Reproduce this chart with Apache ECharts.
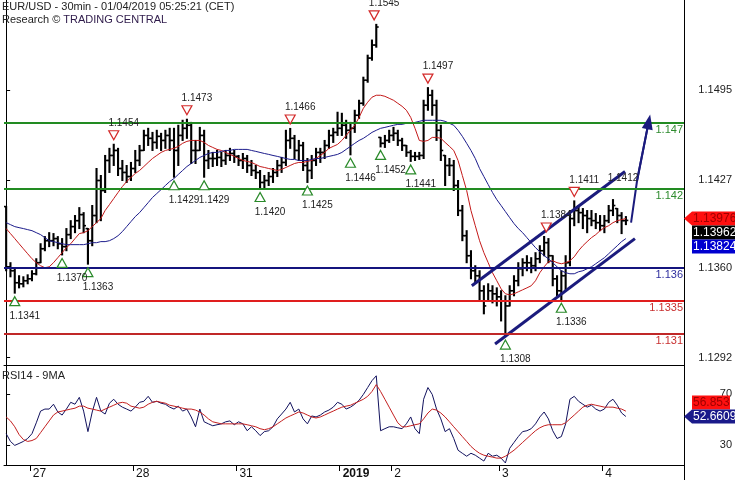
<!DOCTYPE html>
<html><head><meta charset="utf-8">
<script src="https://cdn.jsdelivr.net/npm/echarts@6/dist/echarts.min.js"></script>
<style>html,body{margin:0;padding:0;background:#fff}#main{width:735px;height:480px}</style>
</head><body><div id="main"></div>
<script>
// ---------- data ----------
const dayLabels = ['26','27','28','31','2019','2','3','4'];
const barsPerDay = [6,24,24,24,12,25,24,6];

const highs = [1.14067,1.13641,1.13595,1.13542,1.13534,1.13549,1.13580,1.13671,1.13785,1.13839,
 1.13869,1.13862,1.13839,1.13824,1.13900,1.13960,1.13999,1.14059,1.14021,1.13900,
 1.14075,1.14356,1.14303,1.14455,1.14509,1.14540,1.14509,1.14417,1.14379,1.14402,
 1.14493,1.14531,1.14646,1.14661,1.14630,1.14646,1.14623,1.14646,1.14661,1.14661,
 1.14684,1.14722,1.14730,1.14706,1.14569,1.14668,1.14646,1.14493,1.14478,1.14493,
 1.14478,1.14493,1.14509,1.14493,1.14455,1.14470,1.14455,1.14417,1.14379,1.14341,
 1.14303,1.14326,1.14356,1.14417,1.14440,1.14646,1.14660,1.14607,1.14569,1.14554,
 1.14432,1.14455,1.14509,1.14509,1.14569,1.14646,1.14661,1.14783,1.14775,1.14722,
 1.14706,1.14798,1.14874,1.15049,1.15216,1.15331,1.15450,1.14592,1.14607,1.14646,
 1.14668,1.14646,1.14585,1.14531,1.14493,1.14478,1.14478,1.14874,1.14970,1.14950,
 1.14874,1.14684,1.14455,1.14432,1.14417,1.14265,1.14075,1.13884,1.13732,1.13618,
 1.13580,1.13466,1.13481,1.13466,1.13450,1.13428,1.13390,1.13466,1.13542,1.13641,
 1.13671,1.13694,1.13679,1.13717,1.13770,1.13840,1.13824,1.13694,1.13542,1.13580,
 1.13694,1.14037,1.14110,1.14075,1.14052,1.14037,1.14037,1.14014,1.13999,1.13999,
 1.14075,1.14120,1.14052,1.14021,1.13991];
const lows = [1.13580,1.13534,1.13410,1.13450,1.13458,1.13481,1.13504,1.13549,1.13641,1.13732,
 1.13763,1.13770,1.13747,1.13700,1.13732,1.13824,1.13869,1.13900,1.13869,1.13630,
 1.13770,1.13945,1.13960,1.14174,1.14326,1.14379,1.14303,1.14265,1.14250,1.14265,
 1.14326,1.14379,1.14493,1.14531,1.14493,1.14509,1.14493,1.14509,1.14493,1.14290,
 1.14379,1.14569,1.14585,1.14394,1.14394,1.14493,1.14290,1.14356,1.14371,1.14379,
 1.14371,1.14387,1.14417,1.14402,1.14379,1.14356,1.14326,1.14303,1.14280,1.14200,
 1.14204,1.14227,1.14250,1.14295,1.14326,1.14379,1.14509,1.14432,1.14417,1.14341,
 1.14250,1.14280,1.14379,1.14402,1.14432,1.14509,1.14554,1.14607,1.14607,1.14585,
 1.14460,1.14630,1.14737,1.14836,1.15011,1.15178,1.15277,1.14520,1.14516,1.14554,
 1.14569,1.14531,1.14493,1.14448,1.14410,1.14417,1.14425,1.14432,1.14798,1.14760,
 1.14569,1.14417,1.14227,1.14303,1.14189,1.13999,1.13808,1.13641,1.13519,1.13489,
 1.13352,1.13253,1.13352,1.13336,1.13313,1.13199,1.13080,1.13313,1.13390,1.13466,
 1.13542,1.13580,1.13565,1.13580,1.13641,1.13694,1.13641,1.13466,1.13390,1.13360,
 1.13428,1.13618,1.13922,1.13945,1.13900,1.13869,1.13922,1.13900,1.13884,1.13869,
 1.13945,1.13999,1.13945,1.13862,1.13930];
const closes = [1.13610,1.13580,1.13489,1.13481,1.13504,1.13519,1.13557,1.13641,1.13747,1.13808,
 1.13808,1.13824,1.13785,1.13763,1.13854,1.13915,1.13960,1.14006,1.13922,1.13808,
 1.13999,1.14265,1.14189,1.14417,1.14455,1.14493,1.14356,1.14326,1.14295,1.14356,
 1.14417,1.14493,1.14607,1.14585,1.14554,1.14600,1.14569,1.14607,1.14569,1.14493,
 1.14607,1.14661,1.14684,1.14493,1.14493,1.14607,1.14417,1.14432,1.14432,1.14440,
 1.14417,1.14455,1.14470,1.14448,1.14417,1.14432,1.14379,1.14341,1.14326,1.14250,
 1.14265,1.14295,1.14326,1.14379,1.14402,1.14569,1.14585,1.14493,1.14531,1.14379,
 1.14341,1.14417,1.14478,1.14478,1.14531,1.14607,1.14630,1.14661,1.14684,1.14646,
 1.14661,1.14760,1.14851,1.15026,1.15194,1.15293,1.15430,1.14547,1.14569,1.14607,
 1.14623,1.14569,1.14531,1.14478,1.14448,1.14448,1.14455,1.14836,1.14912,1.14836,
 1.14646,1.14493,1.14379,1.14379,1.14227,1.14037,1.13846,1.13694,1.13580,1.13542,
 1.13428,1.13313,1.13428,1.13405,1.13382,1.13352,1.13313,1.13428,1.13504,1.13595,
 1.13641,1.13641,1.13618,1.13671,1.13732,1.13793,1.13694,1.13519,1.13428,1.13542,
 1.13641,1.13976,1.14037,1.14021,1.13999,1.13976,1.13960,1.13945,1.13922,1.13960,
 1.14037,1.14075,1.13999,1.13960,1.13962];
const maFast = [1.13900,1.13862,1.13824,1.13785,1.13747,1.13709,1.13671,1.13641,1.13618,1.13603,
 1.13610,1.13641,1.13679,1.13717,1.13755,1.13785,1.13824,1.13862,1.13869,1.13884,
 1.13915,1.13945,1.13976,1.14037,1.14082,1.14128,1.14174,1.14219,1.14257,1.14288,
 1.14318,1.14341,1.14371,1.14402,1.14432,1.14455,1.14478,1.14493,1.14501,1.14509,
 1.14524,1.14547,1.14562,1.14569,1.14569,1.14569,1.14554,1.14531,1.14516,1.14501,
 1.14493,1.14478,1.14463,1.14448,1.14432,1.14417,1.14410,1.14402,1.14387,1.14371,
 1.14364,1.14356,1.14349,1.14341,1.14349,1.14364,1.14379,1.14394,1.14402,1.14402,
 1.14410,1.14417,1.14432,1.14455,1.14478,1.14509,1.14524,1.14539,1.14569,1.14607,
 1.14646,1.14684,1.14744,1.14813,1.14859,1.14897,1.14912,1.14912,1.14904,1.14889,
 1.14874,1.14851,1.14828,1.14798,1.14744,1.14661,1.14569,1.14562,1.14569,1.14592,
 1.14592,1.14585,1.14554,1.14524,1.14493,1.14417,1.14303,1.14189,1.14037,1.13922,
 1.13808,1.13717,1.13641,1.13565,1.13504,1.13443,1.13405,1.13397,1.13405,1.13420,
 1.13435,1.13450,1.13466,1.13504,1.13565,1.13610,1.13648,1.13656,1.13641,1.13633,
 1.13641,1.13656,1.13686,1.13732,1.13770,1.13801,1.13831,1.13854,1.13884,1.13907,
 1.13922,1.13945,1.13960,1.13968,1.13976];
const maSlow = [1.13945,1.13930,1.13915,1.13907,1.13900,1.13892,1.13884,1.13869,1.13854,1.13831,
 1.13808,1.13801,1.13793,1.13785,1.13778,1.13778,1.13778,1.13778,1.13778,1.13785,
 1.13793,1.13793,1.13801,1.13801,1.13808,1.13824,1.13846,1.13877,1.13915,1.13953,
 1.13991,1.14021,1.14059,1.14097,1.14136,1.14166,1.14196,1.14227,1.14257,1.14280,
 1.14311,1.14341,1.14371,1.14394,1.14417,1.14440,1.14455,1.14470,1.14478,1.14478,
 1.14486,1.14493,1.14493,1.14501,1.14501,1.14501,1.14501,1.14493,1.14486,1.14478,
 1.14470,1.14463,1.14455,1.14448,1.14440,1.14432,1.14425,1.14425,1.14417,1.14417,
 1.14417,1.14425,1.14432,1.14432,1.14440,1.14448,1.14455,1.14463,1.14478,1.14501,
 1.14524,1.14547,1.14569,1.14585,1.14607,1.14630,1.14646,1.14661,1.14668,1.14676,
 1.14684,1.14691,1.14691,1.14699,1.14699,1.14706,1.14714,1.14722,1.14722,1.14722,
 1.14722,1.14722,1.14714,1.14699,1.14684,1.14646,1.14600,1.14547,1.14493,1.14432,
 1.14356,1.14295,1.14234,1.14174,1.14120,1.14075,1.14029,1.13983,1.13938,1.13900,
 1.13869,1.13831,1.13793,1.13755,1.13724,1.13694,1.13671,1.13641,1.13610,1.13580,
 1.13565,1.13557,1.13557,1.13572,1.13580,1.13595,1.13610,1.13633,1.13656,1.13679,
 1.13709,1.13740,1.13770,1.13801,1.13824];
const rsi = [39.2,33.1,30.0,31.5,33.1,35.4,39.2,47.7,56.9,58.5,
 58.5,62.3,56.2,53.8,58.5,63.8,62.3,67.7,56.9,40.8,
 56.2,67.7,56.9,54.6,63.1,66.2,62.3,60.0,58.5,56.9,
 60.0,63.8,64.6,68.5,63.8,64.6,63.1,62.3,60.0,58.5,
 60.8,56.9,58.5,52.3,44.6,58.5,48.5,46.9,45.4,46.2,
 46.9,48.5,49.2,46.2,48.5,46.9,41.5,44.6,41.5,37.7,
 40.8,41.5,44.6,50.8,54.6,58.5,63.8,56.2,58.5,50.8,
 46.9,53.1,52.3,53.8,56.2,57.7,60.0,63.8,62.3,58.5,
 60.0,62.3,65.4,70.0,75.4,80.8,84.6,41.5,43.1,44.6,
 44.6,43.8,43.1,46.9,52.3,43.1,39.2,66.2,75.4,70.0,
 58.5,50.8,40.8,43.1,35.4,26.2,23.8,21.5,23.8,22.3,
 20.0,17.7,23.8,21.5,22.3,20.0,16.2,27.7,32.3,36.9,
 40.8,41.5,43.1,46.9,52.3,56.2,50.8,41.5,35.4,36.9,
 46.9,66.2,68.5,64.6,62.3,60.0,61.5,58.5,56.9,58.5,
 63.8,66.2,61.5,55.4,52.6609];
const rsiMa = [52.3,49.2,44.6,38.5,34.6,33.1,33.8,35.4,40.0,44.6,
 49.2,53.8,56.2,56.9,57.7,58.5,59.2,60.8,60.8,59.2,
 58.5,57.7,56.9,58.5,60.0,61.5,63.1,63.8,63.1,60.8,
 60.0,59.2,60.0,62.3,63.8,64.6,63.8,63.1,61.5,60.8,
 60.0,59.2,58.5,58.5,57.7,56.2,53.8,50.8,48.5,47.7,
 46.9,46.9,46.9,46.9,46.9,46.9,46.2,45.4,44.6,43.1,
 42.3,43.1,44.6,46.9,49.2,51.5,53.1,54.6,56.2,55.4,
 53.8,52.3,51.5,52.3,53.8,55.4,56.9,58.5,60.0,60.8,
 61.5,63.1,64.6,66.2,68.5,72.3,77.7,72.3,66.2,60.0,
 53.8,47.7,44.6,44.6,45.4,46.2,46.9,50.8,55.4,58.5,
 57.7,55.4,52.3,48.5,44.6,40.8,36.9,33.1,29.2,26.2,
 23.8,22.3,21.5,20.8,20.0,20.0,21.5,23.8,26.2,29.2,
 32.3,35.4,38.5,41.5,43.8,45.4,46.2,46.2,46.2,46.2,
 47.7,50.8,53.8,56.9,60.0,61.5,62.3,61.5,60.8,60.0,
 60.0,60.0,59.2,58.5,56.853];

const priceTicks = [1.1292, 1.1360, 1.1427, 1.1495];
const rsiTicks = [30, 70];
const levels = [1.147, 1.142, 1.136, 1.1335, 1.131];

const pivotHighIdx = [25, 42, 66, 85.5, 98, 125.5, 132, 141];
const pivotHighVal = [1.1454, 1.1473, 1.1466, 1.1545, 1.1497, 1.1384, 1.1411, 1.1412];
const pivotHighMarked = [1, 1, 1, 1, 1, 1, 1, 0];
const pivotLowIdx = [2, 13, 19, 39, 46, 59, 70, 80, 87, 94, 116, 129];
const pivotLowVal = [1.1341, 1.1370, 1.1363, 1.1429, 1.1429, 1.1420, 1.1425, 1.1446, 1.1452, 1.1441, 1.1308, 1.1336];

const channelUpper = [[108.2, 1.13466], [143.8, 1.14333]];
const channelLower = [[113.6, 1.13024], [146.1, 1.13824]];
const arrowPath = [[145.2, 1.13945], [146.6, 1.14265], [149.3, 1.14711]];

// ---------- styles ----------
const FONT = '"Liberation Sans", Arial, sans-serif';
const NAVY = '#1b1b7d';
const levelLine = ['#228b22', '#228b22', '#14147e', '#e01e1e', '#c02828'];
const levelText = ['#2e8b2e', '#2e8b2e', '#2e2e9e', '#c83030', '#c83030'];
const SLOTS_MAX = 157.5;

// ---------- build ----------
const dayStarts = []; let acc = 0;
barsPerDay.forEach(n => { dayStarts.push(acc); acc += n; });
const dayTicks = dayStarts.slice(1).map(s => s - 0.5);
const dayTickLabels = dayLabels.slice(1);

const ohlc = highs.map((h, i) => [i, i > 0 ? closes[i - 1] : h, closes[i], lows[i], h]);
const idxd = arr => arr.map((v, i) => [i, v]);

function renderBar(params, api) {
  const i = api.value(0), o = api.value(1), c = api.value(2), l = api.value(3), h = api.value(4);
  const oc = Math.min(Math.max(o, l), h);
  const pH = api.coord([i, h]), pL = api.coord([i, l]);
  const pO = api.coord([i, oc]), pC = api.coord([i, c]);
  const x = pH[0];
  const st = {stroke: '#000', lineWidth: 2.1};
  const tk = {stroke: '#000', lineWidth: 1.6};
  return {type: 'group', children: [
    {type: 'line', shape: {x1: x, y1: pH[1] - 0.5, x2: x, y2: pL[1] + 0.5}, style: st},
    {type: 'line', shape: {x1: x - 2.4, y1: pO[1], x2: x, y2: pO[1]}, style: tk},
    {type: 'line', shape: {x1: x, y1: pC[1], x2: x + 2.4, y2: pC[1]}, style: tk}
  ]};
}

const highMarks = pivotHighIdx.map((x, k) => ({
  coord: [x, pivotHighVal[k]], value: pivotHighVal[k],
  symbol: 'path://M0,0 L10,0 L5,9 Z', symbolSize: [10, 9], symbolOffset: [0, -9],
  itemStyle: pivotHighMarked[k] ? {color: '#fff', borderColor: '#d42a2a', borderWidth: 1.2}
                                  : {color: 'rgba(0,0,0,0)', borderColor: 'rgba(0,0,0,0)'},
  label: {offset: [10, -12]}
}));
const lowMarks = pivotLowIdx.map((x, k) => ({
  coord: [x, pivotLowVal[k]], value: pivotLowVal[k],
  symbol: 'path://M5,0 L10,9 L0,9 Z', symbolSize: [10, 9], symbolOffset: [0, 8],
  itemStyle: {color: '#fff', borderColor: '#2a8a2a', borderWidth: 1.2},
  label: {offset: [10, 15]}
}));

const chart = echarts.init(document.getElementById('main'));
const option = {
  animation: false,
  backgroundColor: '#fff',
  textStyle: {fontFamily: FONT},
  title: [
    {text: 'EUR/USD - 30min - 01/04/2019 05:25:21 (CET)', left: 2, top: 1, padding: 0,
     textStyle: {fontSize: 11, fontWeight: 'normal', color: '#222', fontFamily: FONT}},
    {text: 'Research © {p|TRADING CENTRAL}', left: 2, top: 14, padding: 0,
     textStyle: {fontSize: 11, fontWeight: 'normal', color: '#222', fontFamily: FONT,
       rich: {p: {fontSize: 11, color: '#2e1a4a', fontFamily: FONT}}}},
    {text: 'RSI14 - 9MA', left: 2, top: 370, padding: 0,
     textStyle: {fontSize: 11, fontWeight: 'normal', color: '#222', fontFamily: FONT}}
  ],
  grid: [
    {left: 4, right: 51, top: 0, height: 365},
    {left: 4, right: 51, top: 366, height: 101}
  ],
  xAxis: [
    {gridIndex: 0, type: 'value', min: -0.5, max: SLOTS_MAX,
     axisLine: {show: true, onZero: false, lineStyle: {color: '#000', width: 1}},
     axisTick: {show: false}, axisLabel: {show: false}, splitLine: {show: false}},
    {gridIndex: 1, type: 'value', min: -0.5, max: SLOTS_MAX,
     axisLine: {show: true, onZero: false, lineStyle: {color: '#000', width: 1}},
     axisTick: {show: true, customValues: dayTicks, length: 6, lineStyle: {color: '#000'}},
     axisLabel: {show: true, customValues: dayTicks, align: 'left', margin: 3, padding: [0, 0, 0, 3],
       fontSize: 12, color: '#111', fontFamily: FONT,
       formatter: v => {
         const k = dayTicks.findIndex(t => Math.abs(t - v) < 1e-6);
         const s = k >= 0 ? dayTickLabels[k] : '';
         return s === '2019' ? '{b|2019}' : s;
       },
       rich: {b: {fontWeight: 'bold', fontSize: 12, color: '#111', fontFamily: FONT}}},
     splitLine: {show: false}}
  ],
  yAxis: [
    {gridIndex: 0, type: 'value', position: 'right', min: 1.128645, max: 1.15635,
     axisLine: {show: true, lineStyle: {color: '#000'}},
     axisTick: {show: true, customValues: priceTicks, length: 4, lineStyle: {color: '#000'}},
     axisLabel: {show: true, customValues: priceTicks, formatter: v => v.toFixed(4),
       align: 'right', margin: 48, fontSize: 11, color: '#222', fontFamily: FONT},
     splitLine: {show: false}},
    {gridIndex: 1, type: 'value', position: 'right', min: 14.6, max: 92.3,
     axisLine: {show: true, lineStyle: {color: '#000'}},
     axisTick: {show: true, customValues: rsiTicks, length: 4, lineStyle: {color: '#000'}},
     axisLabel: {show: true, customValues: rsiTicks, formatter: v => String(v),
       align: 'right', margin: 48, fontSize: 11, color: '#222', fontFamily: FONT},
     splitLine: {show: false}}
  ],
  series: [
    {type: 'custom', name: 'EURUSD', xAxisIndex: 0, yAxisIndex: 0, renderItem: renderBar,
     data: ohlc, encode: {x: 0, y: [1, 2, 3, 4]}, clip: true, z: 2, silent: true},
    {type: 'line', name: 'MA fast', xAxisIndex: 0, yAxisIndex: 0, data: idxd(maFast),
     symbol: 'none', lineStyle: {color: '#c41a1a', width: 1}, z: 3, silent: true,
     markPoint: {silent: true, animation: false, precision: 5,
       label: {show: true, position: 'inside', fontSize: 10, color: '#222', fontFamily: FONT,
               formatter: p => p.value.toFixed(4)},
       data: highMarks.concat(lowMarks)}},
    {type: 'line', name: 'MA slow', xAxisIndex: 0, yAxisIndex: 0, data: idxd(maSlow),
     symbol: 'none', lineStyle: {color: '#1c1c8c', width: 1}, z: 3, silent: true,
     markLine: {silent: true, animation: false, symbol: ['none', 'none'], precision: 6,
       data: levels.map((v, k) => ({yAxis: v,
         lineStyle: {color: levelLine[k], width: 2, type: 'solid'},
         label: {show: true, position: 'insideEndBottom', formatter: String(v), distance: [1, 1],
                 color: levelText[k], fontSize: 11, fontFamily: FONT}}))}},
    {type: 'line', name: 'channel up', xAxisIndex: 0, yAxisIndex: 0, data: channelUpper,
     symbol: 'none', lineStyle: {color: NAVY, width: 3}, z: 4, silent: true},
    {type: 'line', name: 'channel low', xAxisIndex: 0, yAxisIndex: 0, data: channelLower,
     symbol: 'none', lineStyle: {color: NAVY, width: 3}, z: 4, silent: true},
    {type: 'line', name: 'projection', xAxisIndex: 0, yAxisIndex: 0, data: arrowPath,
     symbol: 'none', lineStyle: {color: NAVY, width: 2}, z: 4, silent: true,
     markLine: {silent: true, animation: false, precision: 6, symbol: ['none', 'triangle'], symbolSize: [11, 15],
       lineStyle: {color: NAVY, width: 2, type: 'solid'}, label: {show: false},
       data: [[{coord: arrowPath[1]}, {coord: arrowPath[2]}]]}},
    {type: 'line', name: 'RSI14', xAxisIndex: 1, yAxisIndex: 1, data: idxd(rsi),
     symbol: 'none', lineStyle: {color: '#12125e', width: 1}, z: 3, silent: true},
    {type: 'line', name: '9MA', xAxisIndex: 1, yAxisIndex: 1, data: idxd(rsiMa),
     symbol: 'none', lineStyle: {color: '#c42020', width: 1}, z: 3, silent: true}
  ]
};
chart.setOption(option);

// ---------- value boxes on the right axis ----------
(function () {
  const H = 14, AX = 684, BX = 692;
  const g = [];
  const yP = v => chart.convertToPixel({yAxisIndex: 0}, v);
  const yR = v => chart.convertToPixel({yAxisIndex: 1}, v);
  function box(y, text, bg, fg, arrow) {
    const w = Math.round(text.length * 6.2) + 1;
    if (arrow) g.push({type: 'polygon', shape: {points: [[AX, y], [BX, y - H / 2], [BX, y + H / 2]]},
                       style: {fill: bg}, z: 100});
    g.push({type: 'rect', shape: {x: BX, y: y - H / 2, width: w, height: H}, style: {fill: bg}, z: 100});
    g.push({type: 'text', x: BX + 1, y: y + 0.5, z: 101,
            style: {text: text, fill: fg, font: '12px ' + FONT, textAlign: 'left', textVerticalAlign: 'middle'}});
  }
  const last = closes.length - 1;
  const yFast = yP(maFast[last]);
  const yClose = Math.max(yP(closes[last]), yFast + H);
  const ySlow = Math.max(yP(maSlow[last]), yClose + H);
  box(yFast, String(maFast[last]), '#ff1010', '#a00000', true);
  box(yClose, String(closes[last]), '#000', '#fff', false);
  box(ySlow, String(maSlow[last]), '#0000d0', '#fff', false);
  const yRsi = yR(rsi[last]);
  const yRsiMa = Math.min(yR(rsiMa[last]), yRsi - H);
  box(yRsiMa, String(rsiMa[last]), '#ff1010', '#a00000', false);
  box(yRsi, String(rsi[last]), '#1a1a8a', '#fff', true);
  g.push({type: 'line', shape: {x1: 684.5, y1: 0, x2: 684.5, y2: 480}, style: {stroke: '#000', lineWidth: 1}, z: 50});
  chart.setOption({graphic: g});
})();
</script>
</body></html>
